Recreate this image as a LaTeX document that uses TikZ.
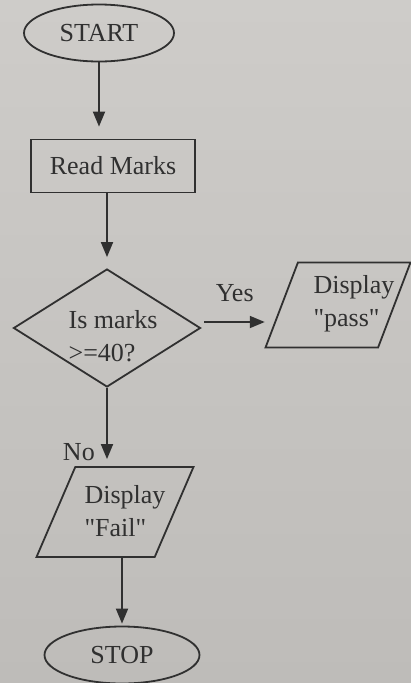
\documentclass[tikz,border=0pt]{standalone}
\usepackage{fontspec}
\setmainfont{Liberation Serif}
\usetikzlibrary{shapes.geometric,arrows.meta}
\definecolor{paperhi}{RGB}{206,204,201}
\definecolor{paperlo}{RGB}{190,188,185}
\definecolor{ink}{RGB}{48,48,48}

\begin{document}
\begin{tikzpicture}[x=1pt,y=-1pt,
	every node/.style={font=\fontsize{26}{33}\selectfont, text=ink},
	line/.style={draw=ink, line width=1.8pt},
	term/.style={line, ellipse, minimum width=150pt, minimum height=57pt, inner sep=0pt},
	proc/.style={line, rectangle, minimum width=164pt, minimum height=53pt, inner sep=0pt},
	decide/.style={line, diamond, minimum width=187pt, minimum height=118pt, inner sep=0pt},
	io/.style={line, trapezium, trapezium stretches=true, inner sep=2pt},
	txt/.style={align=left, inner sep=0pt},
	flow/.style={line, -{Triangle[length=15pt,width=12pt]}}]
	% paper
	\shade[top color=paperhi, bottom color=paperlo] (0,0) rectangle (411,683);
	\useasboundingbox (0,0) rectangle (411,683);
	% boxes
	\node[term] (start) at (99,33) {START};
	\node[proc] (read) at (113,166) {Read Marks};
	\node[decide] (test) at (107,328) {};
	\node[txt] (testtxt) at (113,336) {Is marks\\>=40?};
	\node[io, trapezium left angle=68, trapezium right angle=112, minimum width=145pt, minimum height=85pt] (pass) at (338,305) {};
	\node[txt] (passtxt) at (354,304) {Display\\\textquotedbl pass\textquotedbl};
	\node[io, trapezium left angle=64, trapezium right angle=116, minimum width=157pt, minimum height=90pt] (fail) at (115,512) {};
	\node[txt] (failtxt) at (125,511) {Display\\\textquotedbl Fail\textquotedbl};
	\node[term, minimum width=155pt] (stop) at (122,655) {STOP};
	% arrows
	\draw[flow, shorten >=12pt] (start.south) -- (start.south |- read.north);
	\draw[flow, shorten >=11pt] (test.north |- read.south) -- (test.north);
	\draw[flow, shorten <=3pt, shorten >=16pt] ([yshift=6pt]test.east) -- ([yshift=6pt]test.east -| pass.west) node[pos=0.42, above=16pt] {Yes};
	\draw[flow, shorten >=7pt] (test.south) -- (test.south |- fail.north) node[pos=0.82, left=8pt] {No};
	\draw[flow, shorten >=2pt] (stop.north |- fail.south) -- (stop.north);
\end{tikzpicture}
\end{document}
